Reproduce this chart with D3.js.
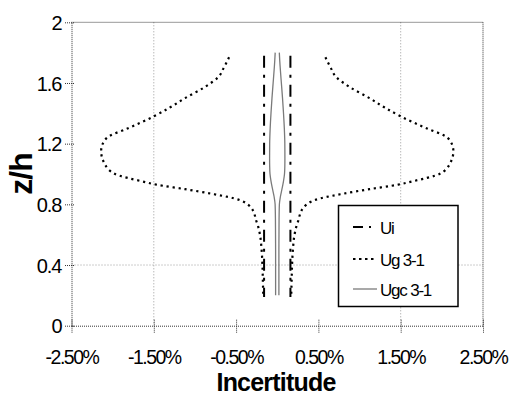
<!DOCTYPE html>
<html>
<head>
<meta charset="utf-8">
<script src="https://cdn.jsdelivr.net/npm/d3@7"></script>
<style>
  html, body { margin: 0; padding: 0; background: #fff; }
  svg { display: block; font-family: "Liberation Sans", Arial, sans-serif; }
</style>
</head>
<body>
<svg id="chart" width="512" height="396"></svg>
<script>
// Axis ticks
const xTicks = [-2.5, -1.5, -0.5, 0.5, 1.5, 2.5];
const xTickLabels = ["-2.50%", "-1.50%", "-0.50%", "0.50%", "1.50%", "2.50%"];
const yTicks = [0, 0.4, 0.8, 1.2, 1.6, 2];
const yTickLabels = ["0", "0.4", "0.8", "1.2", "1.6", "2"];

// Series: half-width of the uncertainty band (%) against z/h
const uiZ = [0.19, 1.78];
const uiVal = [0.16, 0.16];

const ugZ = [0.20, 0.30, 0.40, 0.50, 0.60, 0.65, 0.70, 0.74, 0.78, 0.80, 0.82, 0.84, 0.87, 0.90,
             0.93, 0.95, 1.00, 1.07, 1.15, 1.20, 1.25, 1.30, 1.38, 1.44, 1.50, 1.57, 1.64, 1.70, 1.77];
const ugVal = [0.17, 0.175, 0.18, 0.19, 0.21, 0.23, 0.26, 0.28, 0.32, 0.36, 0.42, 0.53, 0.80, 1.12,
               1.47, 1.63, 1.97, 2.10, 2.14, 2.12, 2.04, 1.82, 1.50, 1.30, 1.12, 0.89, 0.715, 0.65, 0.585];

const ugcZ = [0.20, 0.30, 0.40, 0.50, 0.60, 0.70, 0.80, 0.85, 0.90, 0.95, 1.00, 1.05, 1.10, 1.20,
              1.30, 1.40, 1.50, 1.60, 1.70, 1.75, 1.80];
const ugcVal = [0.02, 0.02, 0.02, 0.02, 0.021, 0.022, 0.026, 0.038, 0.057, 0.075, 0.088, 0.092, 0.093, 0.092,
                0.086, 0.076, 0.064, 0.05, 0.036, 0.03, 0.025];

const legendNames = ["Ui", "Ug 3-1", "Ugc 3-1"];

const svg = d3.select("#chart");

const x = d3.scaleLinear().domain([-2.5, 2.5]).range([71.5, 483]);
const y = d3.scaleLinear().domain([0, 2]).range([325.7, 22.3]);

// Gridlines that remain visible
const grid = svg.append("g");
[-1.5, 1.5].forEach(v => {
  grid.append("line")
    .attr("x1", x(v)).attr("x2", x(v)).attr("y1", y(2)).attr("y2", y(0))
    .attr("stroke", "#999").attr("stroke-width", 1).attr("stroke-dasharray", "1,2");
});
[0.4].forEach(v => {
  grid.append("line")
    .attr("x1", x(-2.5)).attr("x2", x(2.5)).attr("y1", y(v)).attr("y2", y(v))
    .attr("stroke", "#999").attr("stroke-width", 1).attr("stroke-dasharray", "1,2");
});

// Plot frame (dotted)
const frame = svg.append("g").attr("stroke", "#333").attr("stroke-width", 1).attr("stroke-dasharray", "1,1").attr("fill", "none");
frame.append("line").attr("x1", x(-2.5)).attr("x2", x(2.5)).attr("y1", y(2)).attr("y2", y(2));
frame.append("line").attr("x1", x(2.5)).attr("x2", x(2.5)).attr("y1", y(2)).attr("y2", y(0));

const tickFont = 19.5;

// X axis
const xAxis = svg.append("g")
  .attr("transform", `translate(0,${y(0)})`)
  .call(d3.axisBottom(x).tickValues(xTicks).tickFormat((d, i) => xTickLabels[i]).tickSizeOuter(0));
xAxis.select(".domain").attr("stroke", "#333").attr("stroke-dasharray", "1,1");
xAxis.selectAll(".tick line").attr("y1", -6).attr("y2", 7).attr("stroke", "#333").attr("stroke-dasharray", "1,1");
xAxis.selectAll(".tick text")
  .attr("y", 38).attr("dy", 0)
  .attr("font-size", tickFont).attr("letter-spacing", "-1.5px")
  .attr("font-family", "Liberation Sans, Arial, sans-serif")
  .attr("fill", "#000");

// Y axis
const yAxis = svg.append("g")
  .attr("transform", `translate(${x(-2.5)},0)`)
  .call(d3.axisLeft(y).tickValues(yTicks).tickFormat((d, i) => yTickLabels[i]).tickSizeOuter(0));
yAxis.select(".domain").attr("stroke", "#333").attr("stroke-dasharray", "1,1");
yAxis.selectAll(".tick line").attr("x1", -6.5).attr("x2", 3.5).attr("stroke", "#333").attr("stroke-dasharray", "1,1");
yAxis.selectAll(".tick text")
  .attr("x", -10).attr("dy", "0.36em")
  .attr("font-size", 20).attr("letter-spacing", "-1px")
  .attr("font-family", "Liberation Sans, Arial, sans-serif")
  .attr("fill", "#000");

// Axis titles
svg.append("text")
  .attr("x", 276).attr("y", 390.5)
  .attr("text-anchor", "middle")
  .attr("font-size", 25).attr("font-weight", "bold").attr("letter-spacing", "-0.8px")
  .text("Incertitude");

svg.append("text")
  .attr("transform", `translate(32,${(y(0) + y(2)) / 2}) rotate(-90)`)
  .attr("text-anchor", "middle")
  .attr("font-size", 32).attr("font-weight", "bold").attr("letter-spacing", "-1px")
  .text("z/h");

// Series lines, drawn as +/- band edges
const styles = [
  { z: uiZ, v: uiVal, stroke: "#000", width: 2, dash: "12,7,3,7" },
  { z: ugZ, v: ugVal, stroke: "#000", width: 2.2, dash: "2.2,3.8" },
  { z: ugcZ, v: ugcVal, stroke: "#7a7a7a", width: 1.3, dash: null }
];

const plot = svg.append("g");
styles.forEach(s => {
  const pts = s.z.map((z, i) => ({ z, v: s.v[i] })).sort((a, b) => b.z - a.z);
  [-1, 1].forEach(sign => {
    const line = d3.line()
      .x(d => x(sign * d.v))
      .y(d => y(d.z))
      .curve(d3.curveMonotoneY);
    plot.append("path")
      .attr("d", line(pts))
      .attr("fill", "none")
      .attr("stroke", s.stroke)
      .attr("stroke-width", s.width)
      .attr("stroke-dasharray", s.dash);
  });
});

// Legend
const legend = svg.append("g");
legend.append("rect")
  .attr("x", 338.5).attr("y", 205.5).attr("width", 119.5).attr("height", 101)
  .attr("fill", "#fff").attr("stroke", "#000").attr("stroke-width", 1.5);
const legendY = [234, 266, 296];
const sampleDash = ["10,6,2,20", "2.5,3.5", null];
legendNames.forEach((name, i) => {
  const s = styles[i];
  legend.append("line")
    .attr("x1", 353).attr("x2", 377)
    .attr("y1", legendY[i] - 7).attr("y2", legendY[i] - 7)
    .attr("stroke", s.stroke).attr("stroke-width", s.width)
    .attr("stroke-dasharray", sampleDash[i]);
  legend.append("text")
    .attr("x", 380).attr("y", legendY[i])
    .attr("font-size", 17).attr("letter-spacing", "-1.2px")
    .text(name);
});
</script>
</body>
</html>
